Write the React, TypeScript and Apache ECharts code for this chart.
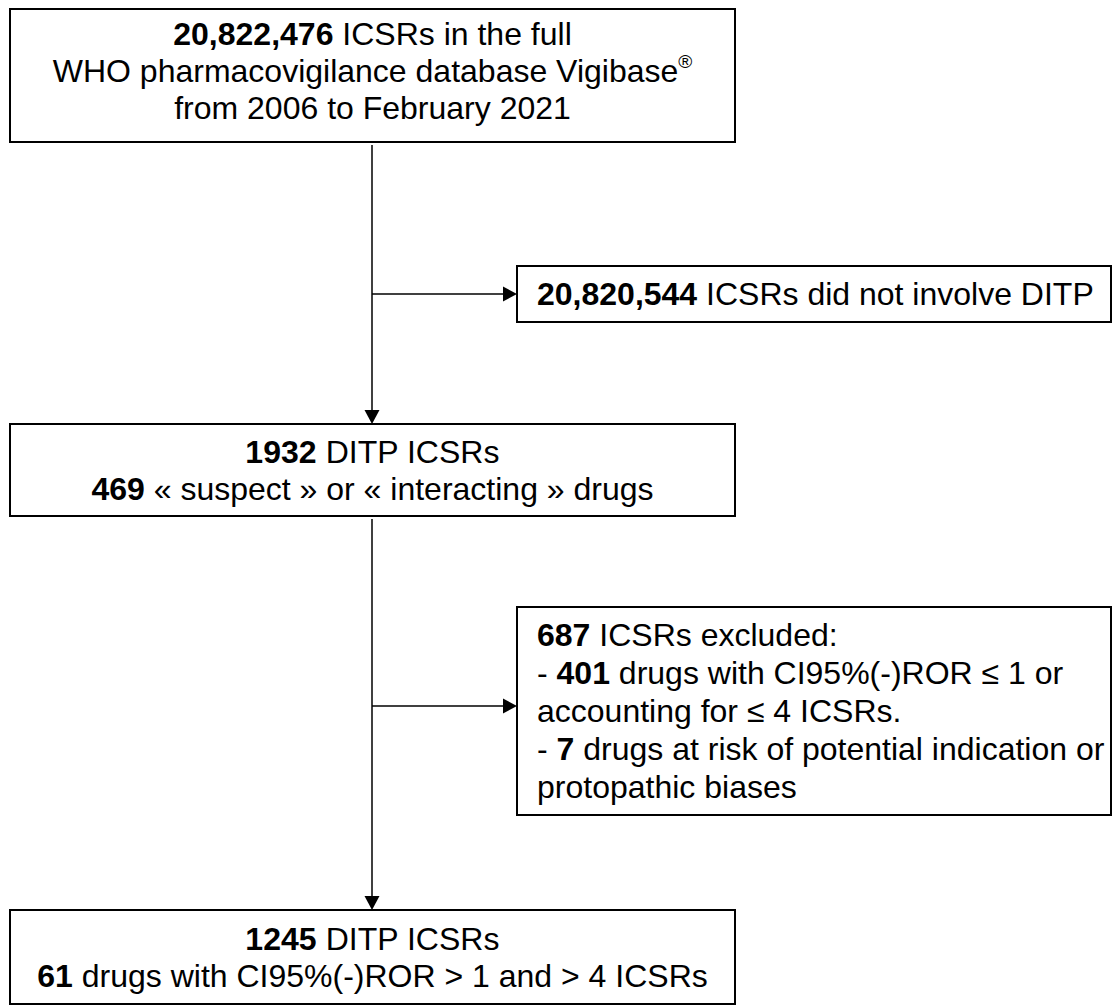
import React, { useEffect, useRef } from "react";
import * as echarts from "echarts";

// ---- Data (texts of the flow diagram) ----
const mainBoxLines: string[][] = [
  [
    "{b|20,822,476} ICSRs in the full",
    "WHO pharmacovigilance database Vigibase{sup|®}",
    "from 2006 to February 2021",
  ],
  ["{b|1932} DITP ICSRs", "{b|469} « suspect » or « interacting » drugs"],
  ["{b|1245} DITP ICSRs", "{b|61} drugs with CI95%(-)ROR > 1 and > 4 ICSRs"],
];
const sideBoxLines: string[][] = [
  ["{b|20,820,544} ICSRs did not involve DITP"],
  [
    "{b|687} ICSRs excluded:",
    "- {b|401} drugs with CI95%(-)ROR ≤ 1 or",
    "accounting for ≤ 4 ICSRs.",
    "- {b|7} drugs at risk of potential indication or",
    "protopathic biases",
  ],
];

const FONT = "'Liberation Sans', Arial, Helvetica, sans-serif";
const FS = 32;
const LH = 37;

export default function App() {
  const ref = useRef<HTMLDivElement>(null);
  useEffect(() => {
    if (!ref.current) return;
    const chart = echarts.init(ref.current, null, { renderer: "svg" });

    const rich = {
      b: { fontFamily: FONT, fontSize: FS, fontWeight: "bold", fill: "#000", lineHeight: LH },
      sup: { fontFamily: FONT, fontSize: 19, fill: "#000", verticalAlign: "top" },
    };

    // geometry
    const mainX = 10, mainW = 725;
    const cx = 372;
    const mainY = [9, 424, 910];
    const mainH = [133, 92, 94];
    const textShift = [-5, 0, 0];
    const sideX = 517, sideW = 594;
    const sideY = [266, 607];
    const sideH = [56, 208];
    const branchY = [294, 706];
    const ah = 14, aw = 7.5;

    const els: any[] = [];
    const stroke = { stroke: "#000", lineWidth: 1.5 };

    // connectors
    els.push({ type: "line", shape: { x1: cx, y1: mainY[0] + mainH[0] + 3, x2: cx, y2: mainY[1] - ah }, style: stroke });
    els.push({ type: "line", shape: { x1: cx, y1: mainY[1] + mainH[1] + 3, x2: cx, y2: mainY[2] - ah }, style: stroke });
    [0, 1].forEach((i) => {
      els.push({
        type: "polygon",
        shape: { points: [[cx - aw, mainY[i + 1] - ah], [cx + aw, mainY[i + 1] - ah], [cx, mainY[i + 1]]] },
        style: { fill: "#000" },
      });
      els.push({ type: "line", shape: { x1: cx, y1: branchY[i], x2: sideX - ah, y2: branchY[i] }, style: stroke });
      els.push({
        type: "polygon",
        shape: { points: [[sideX - ah, branchY[i] - aw], [sideX - ah, branchY[i] + aw], [sideX, branchY[i]]] },
        style: { fill: "#000" },
      });
    });

    mainBoxLines.forEach((lines, i) => {
      els.push({
        type: "rect",
        shape: { x: mainX, y: mainY[i], width: mainW, height: mainH[i] },
        style: { fill: "#fff", stroke: "#000", lineWidth: 2 },
      });
      els.push({
        type: "text",
        x: mainX + mainW / 2,
        y: mainY[i] + mainH[i] / 2 + textShift[i],
        style: {
          text: lines.join("\n"),
          fontFamily: FONT,
          fontSize: FS,
          fill: "#000",
          align: "center",
          verticalAlign: "middle",
          lineHeight: LH,
          rich,
        },
      });
    });

    sideBoxLines.forEach((lines, i) => {
      els.push({
        type: "rect",
        shape: { x: sideX, y: sideY[i], width: sideW, height: sideH[i] },
        style: { fill: "#fff", stroke: "#000", lineWidth: 2 },
      });
      els.push({
        type: "text",
        x: sideX + 20,
        y: sideY[i] + sideH[i] / 2,
        style: {
          text: lines.join("\n"),
          fontFamily: FONT,
          fontSize: FS,
          fill: "#000",
          align: "left",
          verticalAlign: "middle",
          lineHeight: 38,
          rich: { ...rich, b: { ...rich.b, lineHeight: 38 } },
        },
      });
    });

    chart.setOption({
      animation: false,
      backgroundColor: "#fff",
      graphic: { elements: els },
    });
    return () => chart.dispose();
  }, []);

  return (
    <div
      ref={ref}
      style={{ position: "absolute", left: 0, top: 0, width: 1113, height: 1007, background: "#fff" }}
    />
  );
}
